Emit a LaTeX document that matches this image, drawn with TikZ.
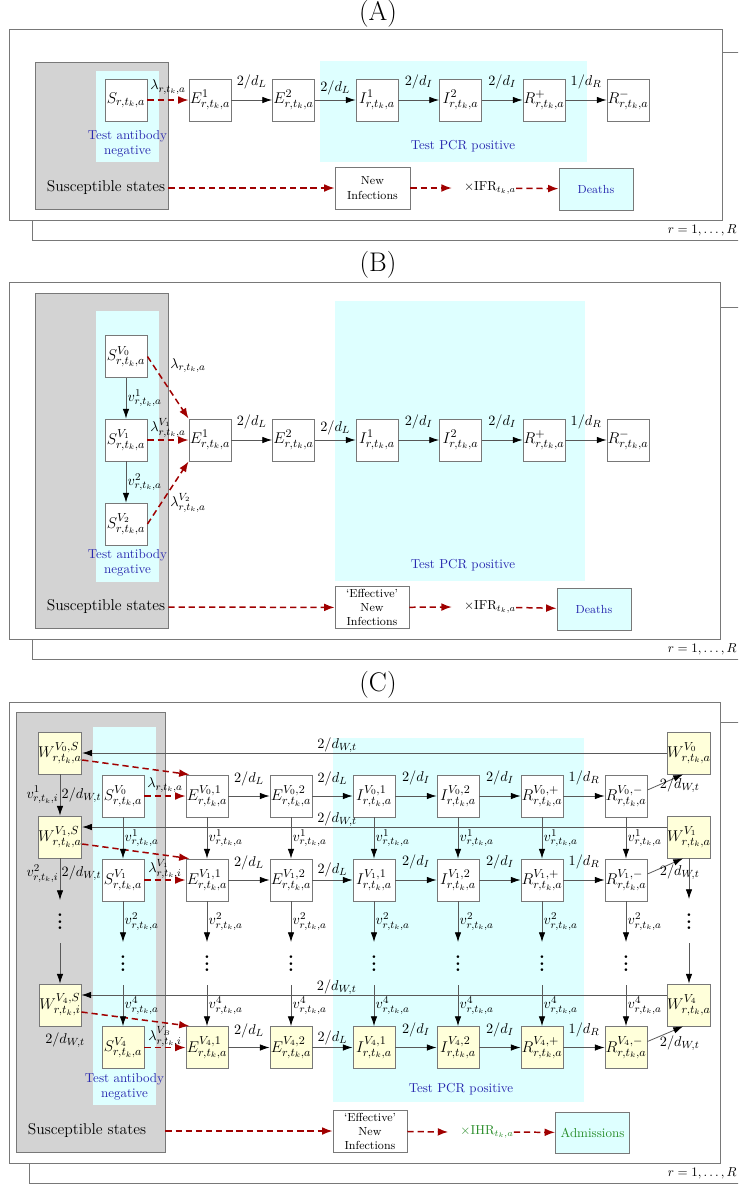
\documentclass[tikz,border=0pt]{standalone}
\usetikzlibrary{arrows.meta,fit}
\newdimen\pxu \pxu=0.76923pt
\newcommand{\mydots}{\vbox{\baselineskip=5pt\lineskiplimit=0pt\hbox{.}\hbox{.}\hbox{.}}}
\definecolor{dred}{RGB}{160,0,0}
\definecolor{lcyan}{RGB}{222,255,255}
\definecolor{lyel}{RGB}{255,255,218}
\definecolor{sgray}{RGB}{211,211,211}
\definecolor{tblue}{RGB}{40,40,175}
\definecolor{tgreen}{RGB}{40,140,40}
\definecolor{lgray}{RGB}{120,120,120}
\tikzset{
 frame/.style={draw=lgray, line width=0.7pt, fill=white},
 grayreg/.style={draw=lgray, line width=0.7pt, fill=sgray, inner sep=0pt},
 cyanreg/.style={fill=lcyan, inner sep=0pt},
 st/.style={draw=lgray, fill=white, line width=0.7pt, minimum width=42\pxu, minimum height=42\pxu, inner sep=0pt, font=\fontsize{13}{15}\selectfont},
 bx/.style={draw=lgray, fill=white, line width=0.7pt, inner sep=0pt, align=center},
 lbl/.style={font=\fontsize{11}{13}\selectfont, inner sep=1pt},
 dots/.style={font=\Large\bfseries, inner sep=0pt},
 arr/.style={draw=black!65, line width=0.6pt, -{Latex[length=7.5pt,width=5pt,color=black]}},
 rarr/.style={draw=dred, line width=1.15pt, dash pattern=on 4.8pt off 3pt, -{Latex[length=8pt,width=6pt]}},
 ttl/.style={font=\huge},
 rlab/.style={font=\normalsize, anchor=east, inner sep=0pt},
 bluet/.style={text=tblue, font=\normalsize, align=center},
}
\begin{document}
\begin{tikzpicture}[x=\pxu, y=-\pxu]
\path[use as bounding box] (0,0) rectangle (738,1185);
\clip (0,0) rectangle (738,1185);

%%%%%%%%%%%%%%%% PANEL A
\node[ttl] (aT) at (378,14) {(A)};
\draw[frame] (32,52) rectangle (760,240);
\draw[frame] (9,29) rectangle (722,220);
\node[rlab] (aRl) at (737,230) {$r=1,\dots,R$};
\node[grayreg, fit={(35,62) (168,209)}] (aG) {};
\node[cyanreg, fit={(96,71) (159,162)}] (aAb) {};
\node[cyanreg, fit={(320,61) (587,162)}] (aPcr) {};
\node[bluet] (aAbT) at (127.5,144) {Test antibody\\negative};
\node[bluet] (aPcrT) at (463,146) {Test PCR positive};
\node[font=\large] (aSus) at (106,188) {Susceptible states};
\node[st] (aS) at (126,100) {$S_{r,t_k,a}$};
\node[st] (aE1) at (210,100) {$E^1_{r,t_k,a}$};
\node[st] (aE2) at (293.5,100) {$E^2_{r,t_k,a}$};
\node[st] (aI1) at (377,100) {$I^1_{r,t_k,a}$};
\node[st] (aI2) at (460.5,100) {$I^2_{r,t_k,a}$};
\node[st] (aRp) at (544,100) {$R^+_{r,t_k,a}$};
\node[st] (aRm) at (628,100) {$R^-_{r,t_k,a}$};
\node[bx, minimum width=75\pxu, minimum height=42\pxu, font=\small] (aNew) at (372.5,188) {New\\Infections};
\node[inner sep=0pt] (aIfr) at (490,188) {$\times\mathrm{IFR}_{t_k,a}$};
\node[bx, fill=lcyan, text=tblue, font=\small, minimum width=74\pxu, minimum height=42\pxu] (aD) at (596,189) {Deaths};
\draw[rarr] (aS) -- node[lbl, yshift=13\pxu] (aL0) {$\lambda_{r,t_k,a}$} (aE1);
\draw[arr] (aE1) -- node[lbl, yshift=18\pxu] (aL1) {$2/d_L$} (aE2);
\draw[arr] (aE2) -- node[lbl, yshift=12\pxu] (aL2) {$2/d_L$} (aI1);
\draw[arr] (aI1) -- node[lbl, yshift=18\pxu] (aL3) {$2/d_I$} (aI2);
\draw[arr] (aI2) -- node[lbl, yshift=18\pxu] (aL4) {$2/d_I$} (aRp);
\draw[arr] (aRp) -- node[lbl, yshift=18\pxu] (aL5) {$1/d_R$} (aRm);
\draw[rarr] (aG.east |- aSus) -- (aNew);
\draw[rarr] (aNew) -- ([xshift=-12\pxu]aIfr.west);
\draw[rarr] (aIfr) -- (aD);

%%%%%%%%%%%%%%%% PANEL B
\node[ttl] (bT) at (378,265) {(B)};
\draw[frame] (32,307) rectangle (760,659);
\draw[frame] (9,282) rectangle (720,639);
\node[rlab] (bRl) at (737,649) {$r=1,\dots,R$};
\node[grayreg, fit={(35,293) (168,628)}] (bG) {};
\node[cyanreg, fit={(96,311) (159,582)}] (bAb) {};
\node[cyanreg, fit={(335,301) (585,581)}] (bPcr) {};
\node[bluet] (bAbT) at (127.5,563) {Test antibody\\negative};
\node[bluet] (bPcrT) at (463,565) {Test PCR positive};
\node[font=\large] (bSus) at (106,607) {Susceptible states};
\node[st] (bS0) at (126,356.5) {$S^{V_0}_{r,t_k,a}$};
\node[st] (bS1) at (126,440) {$S^{V_1}_{r,t_k,a}$};
\node[st] (bS2) at (126,524) {$S^{V_2}_{r,t_k,a}$};
\node[st] (bE1) at (210,440) {$E^1_{r,t_k,a}$};
\node[st] (bE2) at (293.5,440) {$E^2_{r,t_k,a}$};
\node[st] (bI1) at (377,440) {$I^1_{r,t_k,a}$};
\node[st] (bI2) at (460.5,440) {$I^2_{r,t_k,a}$};
\node[st] (bRp) at (544,440) {$R^+_{r,t_k,a}$};
\node[st] (bRm) at (628,440) {$R^-_{r,t_k,a}$};
\node[bx, minimum width=74\pxu, minimum height=42\pxu, font=\fontsize{9}{10.8}\selectfont] (bNew) at (372,607.5) {`Effective'\\New\\Infections};
\node[inner sep=0pt] (bIfr) at (490,607) {$\times\mathrm{IFR}_{t_k,a}$};
\node[bx, fill=lcyan, text=tblue, font=\small, minimum width=74\pxu, minimum height=42\pxu] (bD) at (594,609) {Deaths};
\draw[arr] (bS0) -- node[lbl, right] (bV1) {$v^1_{r,t_k,a}$} (bS1);
\draw[arr] (bS1) -- node[lbl, right] (bV2) {$v^2_{r,t_k,a}$} (bS2);
\draw[rarr] (bS0.east) -- node[lbl, xshift=20\pxu, yshift=22\pxu] (bL0) {$\lambda_{r,t_k,a}$} (bE1.north west);
\draw[rarr] (bS1) -- node[lbl, yshift=12\pxu] (bL1) {$\lambda^{V_1}_{r,t_k,a}$} (bE1);
\draw[rarr] (bS2.east) -- node[lbl, xshift=20\pxu, yshift=-10\pxu] (bL2) {$\lambda^{V_2}_{r,t_k,a}$} (bE1.south west);
\draw[arr] (bE1) -- node[lbl, yshift=18\pxu] (bL3) {$2/d_L$} (bE2);
\draw[arr] (bE2) -- node[lbl, yshift=12\pxu] (bL4) {$2/d_L$} (bI1);
\draw[arr] (bI1) -- node[lbl, yshift=18\pxu] (bL5) {$2/d_I$} (bI2);
\draw[arr] (bI2) -- node[lbl, yshift=18\pxu] (bL6) {$2/d_I$} (bRp);
\draw[arr] (bRp) -- node[lbl, yshift=18\pxu] (bL7) {$1/d_R$} (bRm);
\draw[rarr] (bG.east |- bSus) -- (bNew);
\draw[rarr] (bNew) -- ([xshift=-12\pxu]bIfr.west);
\draw[rarr] (bIfr) -- (bD);

%%%%%%%%%%%%%%%% PANEL C
\node[ttl] (cT) at (378,685) {(C)};
\draw[frame] (29,722) rectangle (760,1183);
\draw[frame] (9,702) rectangle (720,1163);
\node[rlab] (cRl) at (737,1173) {$r=1,\dots,R$};
\node[grayreg, fit={(16,712) (165,1152)}] (cG) {};
\node[cyanreg, fit={(93,727) (156,1105)}] (cAb) {};
\node[cyanreg, fit={(333,738) (584,1102)}] (cPcr) {};
\node[bluet] (cAbT) at (124.5,1087) {Test antibody\\negative};
\node[bluet] (cPcrT) at (461,1089) {Test PCR positive};
\node[font=\large] (cSus) at (87,1131) {Susceptible states};

\node[st, fill=lyel] (cW0L) at (60,753) {$W^{V_0,S}_{r,t_k,a}$};
\node[st, fill=lyel] (cW1L) at (60,837) {$W^{V_1,S}_{r,t_k,a}$};
\node[st, fill=lyel] (cW4L) at (60,1005) {$W^{V_4,S}_{r,t_k,i}$};
\node[st, fill=lyel] (cW0R) at (689,753) {$W^{V_0}_{r,t_k,a}$};
\node[st, fill=lyel] (cW1R) at (689,837) {$W^{V_1}_{r,t_k,a}$};
\node[st, fill=lyel] (cW4R) at (689,1005) {$W^{V_4}_{r,t_k,a}$};
\node[lbl] (cW4Llab) at (65,1040) {$2/d_{W,t}$};

\foreach \r/\y/\v/\fc/\lam/\lb in {0/796/V_0/white/{\lambda_{r,t_k,a}}/17, 1/880/V_1/white/{\lambda^{V_1}_{r,t_k,i}}/10, 4/1047.5/V_4/lyel/{\lambda^{V_B}_{r,t_k,i}}/10}{
  \node[st, fill=\fc] (cS\r) at (123,\y) {$S^{\v}_{r,t_k,a}$};
  \node[st, fill=\fc] (cEa\r) at (207,\y) {$E^{\v,1}_{r,t_k,a}$};
  \node[st, fill=\fc] (cEb\r) at (291,\y) {$E^{\v,2}_{r,t_k,a}$};
  \node[st, fill=\fc] (cIa\r) at (374,\y) {$I^{\v,1}_{r,t_k,a}$};
  \node[st, fill=\fc] (cIb\r) at (458,\y) {$I^{\v,2}_{r,t_k,a}$};
  \node[st, fill=\fc] (cRa\r) at (542,\y) {$R^{\v,+}_{r,t_k,a}$};
  \node[st, fill=\fc] (cRb\r) at (626,\y) {$R^{\v,-}_{r,t_k,a}$};
  \draw[rarr] (cS\r) -- node[lbl, yshift=11\pxu] (cLam\r) {$\lam$} (cEa\r);
  \draw[arr] (cEa\r) -- node[lbl, yshift=17\pxu] (cLa\r) {$2/d_L$} (cEb\r);
  \draw[arr] (cEb\r) -- node[lbl, yshift=\lb\pxu] (cLb\r) {$2/d_L$} (cIa\r);
  \draw[arr] (cIa\r) -- node[lbl, yshift=18\pxu] (cLc\r) {$2/d_I$} (cIb\r);
  \draw[arr] (cIb\r) -- node[lbl, yshift=18\pxu] (cLd\r) {$2/d_I$} (cRa\r);
  \draw[arr] (cRa\r) -- node[lbl, yshift=18\pxu] (cLe\r) {$1/d_R$} (cRb\r);
}
% W -> E dashed
\draw[rarr] ([yshift=-7\pxu]cW0L.east) -- ([xshift=4\pxu]cEa0.north west);
\draw[rarr] ([yshift=-7\pxu]cW1L.east) -- ([xshift=4\pxu]cEa1.north west);
\draw[rarr] ([yshift=-7\pxu]cW4L.east) -- ([xshift=4\pxu]cEa4.north west);
% W lines right to left
\draw[arr] (cW0R.west) -- node[lbl, pos=0.564, yshift=8\pxu] (cWl0) {$2/d_{W,t}$} (cW0L.east);
\draw[arr] ([yshift=10\pxu]cW1R.west) -- node[lbl, pos=0.564, yshift=8\pxu] (cWl1) {$2/d_{W,t}$} ([yshift=10\pxu]cW1L.east);
\draw[arr] ([yshift=10\pxu]cW4R.west) -- node[lbl, pos=0.564, yshift=8\pxu] (cWl4) {$2/d_{W,t}$} ([yshift=10\pxu]cW4L.east);
% R- -> W
\draw[arr] ([yshift=6\pxu]cRb0.east) -- node[lbl, anchor=west, xshift=-7\pxu, yshift=-3\pxu] (cRW0) {$2/d_{W,t}$} ([xshift=-6\pxu]cW0R.south);
\draw[arr] ([yshift=6\pxu]cRb1.east) -- node[lbl, anchor=west, xshift=-7\pxu, yshift=-6\pxu] (cRW1) {$2/d_{W,t}$} ([xshift=-6\pxu]cW1R.south);
\draw[arr] ([yshift=6\pxu]cRb4.east) -- node[lbl, anchor=west, xshift=-7\pxu, yshift=-9\pxu] (cRW4) {$2/d_{W,t}$} ([xshift=-6\pxu]cW4R.south);
% left W column
\draw[arr] (cW0L) -- node[lbl, left] (cWv1) {$v^1_{r,t_k,i}$} node[lbl, right] (cWd1) {$2/d_{W,t}$} (cW1L);
\coordinate (cWLd) at (60,900);
\draw[arr] (cW1L) -- node[lbl, left, yshift=6\pxu] (cWv2) {$v^2_{r,t_k,i}$} node[lbl, right, yshift=6\pxu] (cWd2) {$2/d_{W,t}$} (cWLd);
\node[dots] (cWLdots) at (60,922) {\mydots};
\coordinate (cWLu) at (60,943);
\draw[arr] (cWLu) -- (cW4L);
% right W column
\coordinate (cWRd) at (689,899);
\draw[arr] (cW1R) -- (cWRd);
\node[dots] (cWRdots) at (689,922) {\mydots};
\coordinate (cWRu) at (689,943);
\draw[arr] (cWRu) -- (cW4R);
% vertical columns
\foreach \c/\x in {S/123, Ea/207, Eb/291, Ia/374, Ib/458, Ra/542, Rb/626}{
  \draw[arr] (c\c0) -- node[lbl, right] (vA\c) {$v^1_{r,t_k,a}$} (c\c1);
  \coordinate (dn\c) at (\x,942);
  \draw[arr] (c\c1) -- node[lbl, right] (vB\c) {$v^2_{r,t_k,a}$} (dn\c);
  \node[dots] (dt\c) at (\x,964) {\mydots};
  \coordinate (up\c) at (\x,985);
  \draw[arr] (up\c) -- node[lbl, right] (vC\c) {$v^4_{r,t_k,a}$} (c\c4);
}
% bottom row
\node[bx, minimum width=74\pxu, minimum height=42\pxu, font=\fontsize{9}{10.8}\selectfont] (cNew) at (370,1131) {`Effective'\\New\\Infections};
\node[inner sep=0pt, text=tgreen] (cIhr) at (487,1132) {$\times\mathrm{IHR}_{t_k,a}$};
\node[bx, fill=lcyan, text=tgreen, minimum width=74\pxu, minimum height=41\pxu] (cAdm) at (592.5,1132.5) {Admissions};
\draw[rarr] (cG.east |- cSus) -- (cNew);
\draw[rarr] (cNew) -- ([xshift=-12\pxu]cIhr.west);
\draw[rarr] (cIhr) -- (cAdm);
\end{tikzpicture}
\end{document}
